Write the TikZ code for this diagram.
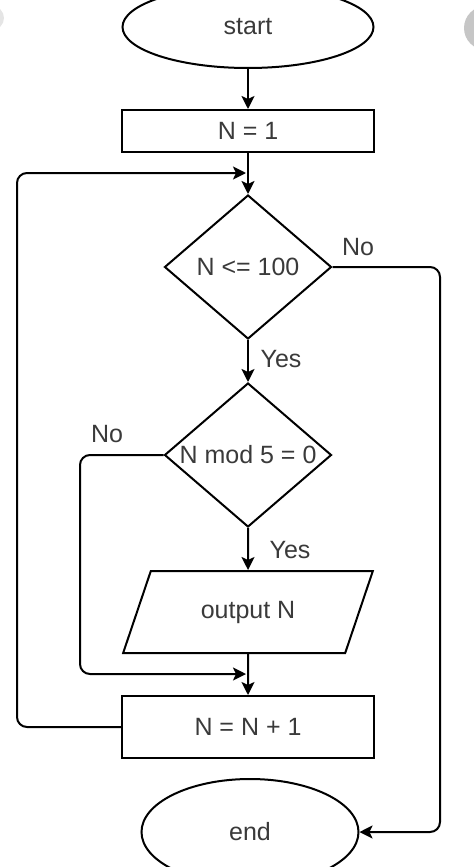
\documentclass[tikz,border=0pt]{standalone}
\usepackage{fontspec}
\setmainfont{Liberation Sans}
\usetikzlibrary{shapes.geometric,arrows.meta}
\definecolor{txtgray}{HTML}{3A3A3A}

\begin{document}
\begin{tikzpicture}
  [x=0.5pt,y=-0.5pt,line width=1pt,
   every node/.style={text=txtgray,font=\fontsize{12.5}{15}\selectfont,inner sep=0pt},
   term/.style={draw,ellipse},
   proc/.style={draw,rectangle,minimum width=126pt},
   test/.style={draw,diamond,minimum width=83.5pt,minimum height=72pt},
   io/.style={draw,trapezium,trapezium left angle=59,trapezium right angle=121,
     trapezium stretches=true,minimum width=125.5pt,minimum height=41pt},
   lbl/.style={},
   flow/.style={-{Stealth[length=6.5pt,width=6.5pt,inset=1.5pt]},rounded corners=5pt}]
  \useasboundingbox (0,0) rectangle (474,867);
  \fill[gray!45] (486,28) circle (11pt);
  \fill[gray!20] (-8,18) circle (6pt);

  \node[term,minimum width=125.5pt,minimum height=41pt] (start) at (248,27) {start};
  \node[proc,minimum height=21pt] (init) at (248,131) {N = 1};
  \node[test] (cond) at (248,267) {\makebox[0pt]{N <= 100}};
  \node[test] (mod) at (248,455) {\makebox[0pt]{N mod 5 = 0}};
  \node[io] (out) at (248,612) {output N};
  \node[proc,minimum height=31pt] (inc) at (248,727) {N = N + 1};
  \node[term,minimum width=108.5pt,minimum height=53pt] (end) at (250,832) {end};

  \node[lbl] (yes1) at (281,359) {Yes};
  \node[lbl] (yes2) at (290,550) {Yes};
  \node[lbl] (no1) at (358,247) {No};
  \node[lbl] (no2) at (107,434) {No};

  \coordinate (j1) at (246,173);
  \coordinate (j2) at (246,674);
  \coordinate (loopL) at (17,173);
  \coordinate (noL) at (80,674);
  \coordinate (noR) at (440,832);

  \foreach \from/\to in {start/init,init/cond,cond/mod,mod/out,out/inc}
    \draw[flow] (\from) -- (\to);

  \draw[flow] (inc.west) -| (loopL) -- (j1);
  \draw[flow] (mod.west) -| (noL) -- (j2);
  \draw[flow] (cond.east) -| (noR) -- (end.east);

\end{tikzpicture}
\end{document}
